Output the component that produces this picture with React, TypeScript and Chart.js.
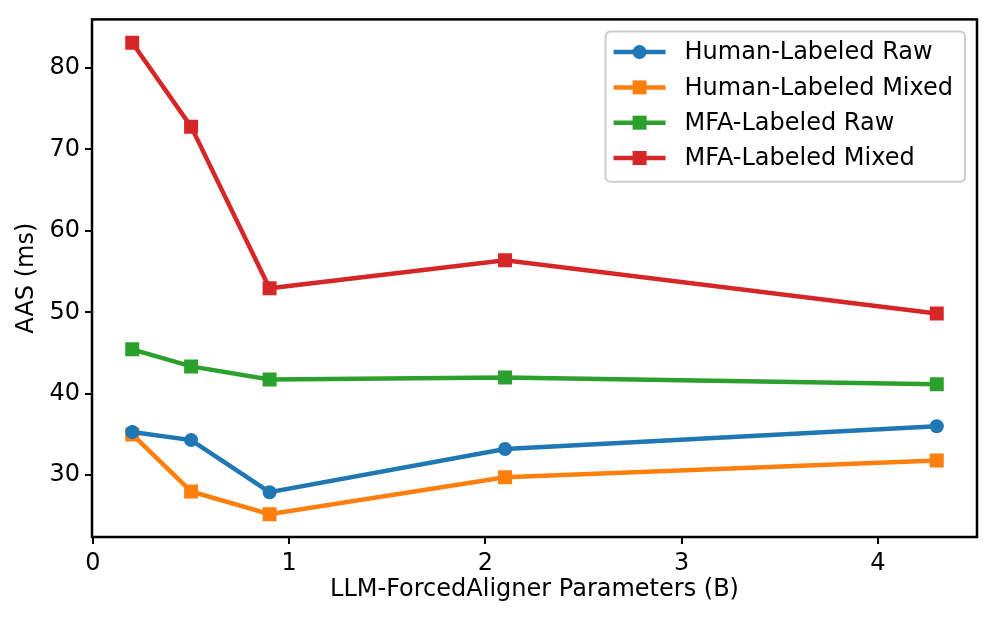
import React, { useEffect, useRef } from "react";
import { Chart, registerables } from "chart.js";

Chart.register(...registerables);

const xValues = [0.2, 0.5, 0.9, 2.1, 4.3];
const humanRaw = [35.3, 34.3, 27.9, 33.2, 36.0];
const humanMixed = [35.0, 28.0, 25.2, 29.75, 31.8];
const mfaRaw = [45.45, 43.35, 41.75, 42.0, 41.15];
const mfaMixed = [83.1, 72.8, 52.95, 56.4, 49.85];

const seriesLabels = [
  "Human-Labeled Raw",
  "Human-Labeled Mixed",
  "MFA-Labeled Raw",
  "MFA-Labeled Mixed",
];
const seriesColors = ["#1f77b4", "#ff7f0e", "#2ca02c", "#d62728"];
const seriesMarkers = ["circle", "rect", "rect", "rect"];

const xTitle = "LLM-ForcedAligner Parameters (B)";
const yTitle = "AAS (ms)";

const FONT = "'DejaVu Sans', 'Liberation Sans', sans-serif";
const FS = 24;
const LW = 4.5;

const framePlugin = {
  id: "frame",
  afterDatasetsDraw(chart: any) {
    const { ctx, chartArea } = chart;
    ctx.save();
    ctx.strokeStyle = "#000";
    ctx.lineWidth = 2.5;
    ctx.strokeRect(
      chartArea.left,
      chartArea.top,
      chartArea.right - chartArea.left,
      chartArea.bottom - chartArea.top
    );
    ctx.restore();
  },
};

const legendPlugin = {
  id: "mplLegend",
  afterDraw(chart: any) {
    const { ctx, chartArea } = chart;
    ctx.save();
    ctx.font = `${FS}px ${FONT}`;
    const datasets = chart.data.datasets;
    let maxW = 0;
    datasets.forEach((d: any) => {
      maxW = Math.max(maxW, ctx.measureText(d.label).width);
    });
    const width = 79 + maxW + 12;
    const right = chartArea.right - 12;
    const left = right - width;
    const top = chartArea.top + 12;
    const rowH = 35.3;
    const height = 20.7 * 2 + rowH * (datasets.length - 1) + 3;
    ctx.beginPath();
    ctx.roundRect(left, top, width, height, 5);
    ctx.fillStyle = "rgba(255,255,255,0.8)";
    ctx.fill();
    ctx.strokeStyle = "#cccccc";
    ctx.lineWidth = 2;
    ctx.stroke();
    datasets.forEach((d: any, i: number) => {
      const cy = top + 20.7 + i * rowH;
      ctx.strokeStyle = d.borderColor;
      ctx.lineWidth = LW;
      ctx.beginPath();
      ctx.moveTo(left + 8, cy);
      ctx.lineTo(left + 60, cy);
      ctx.stroke();
      ctx.fillStyle = d.borderColor;
      const cx = left + 34;
      if (d.pointStyle === "circle") {
        ctx.beginPath();
        ctx.arc(cx, cy, 7, 0, Math.PI * 2);
        ctx.fill();
      } else {
        ctx.fillRect(cx - 7, cy - 7, 14, 14);
      }
      ctx.fillStyle = "#000";
      ctx.textBaseline = "middle";
      ctx.textAlign = "left";
      ctx.fillText(d.label, left + 79, cy + 1);
    });
    ctx.restore();
  },
};

export default function App() {
  const canvasRef = useRef<HTMLCanvasElement | null>(null);

  useEffect(() => {
    if (!canvasRef.current) return;
    const allSeries = [humanRaw, humanMixed, mfaRaw, mfaMixed];
    const chart = new Chart(canvasRef.current, {
      type: "line",
      data: {
        datasets: allSeries.map((vals, i) => ({
          label: seriesLabels[i],
          data: xValues.map((x, j) => ({ x, y: vals[j] })),
          borderColor: seriesColors[i],
          backgroundColor: seriesColors[i],
          borderWidth: LW,
          pointStyle: seriesMarkers[i] as any,
          pointRadius: seriesMarkers[i] === "circle" ? 7 : 9.9,
          pointBorderWidth: 0,
          pointHoverRadius: 0,
          tension: 0,
          fill: false,
        })),
      },
      options: {
        responsive: false,
        animation: false,
        devicePixelRatio: 1,
        layout: { padding: { left: 0, top: 18, right: 19, bottom: 0 } },
        plugins: {
          legend: { display: false },
          tooltip: { enabled: false },
        },
        scales: {
          x: {
            type: "linear",
            min: -0.005,
            max: 4.505,
            afterFit: (scale: any) => {
              scale.height = 86;
            },
            ticks: {
              stepSize: 1,
              includeBounds: false,
              color: "#000",
              font: { family: FONT, size: FS },
              padding: 5,
              maxRotation: 0,
            },
            grid: {
              display: true,
              drawOnChartArea: false,
              drawTicks: true,
              tickLength: 7,
              color: "#000",
              lineWidth: 2,
            },
            border: { display: false },
            title: {
              display: true,
              text: xTitle,
              color: "#000",
              font: { family: FONT, size: FS },
              padding: { top: 0, bottom: 19 },
            },
          },
          y: {
            type: "linear",
            min: 22.4,
            max: 85.97,
            afterFit: (scale: any) => {
              scale.width = 92;
            },
            ticks: {
              stepSize: 10,
              includeBounds: false,
              color: "#000",
              font: { family: FONT, size: FS },
              padding: 5,
            },
            grid: {
              display: true,
              drawOnChartArea: false,
              drawTicks: true,
              tickLength: 7,
              color: "#000",
              lineWidth: 2,
            },
            border: { display: false },
            title: {
              display: true,
              text: yTitle,
              color: "#000",
              font: { family: FONT, size: FS },
              padding: { top: 12, bottom: 0 },
            },
          },
        },
      },
      plugins: [framePlugin, legendPlugin],
    });
    return () => chart.destroy();
  }, []);

  return (
    <div style={{ position: "absolute", left: 0, top: 0, width: 996, height: 623, background: "#fff" }}>
      <canvas ref={canvasRef} width={996} height={623} />
    </div>
  );
}
